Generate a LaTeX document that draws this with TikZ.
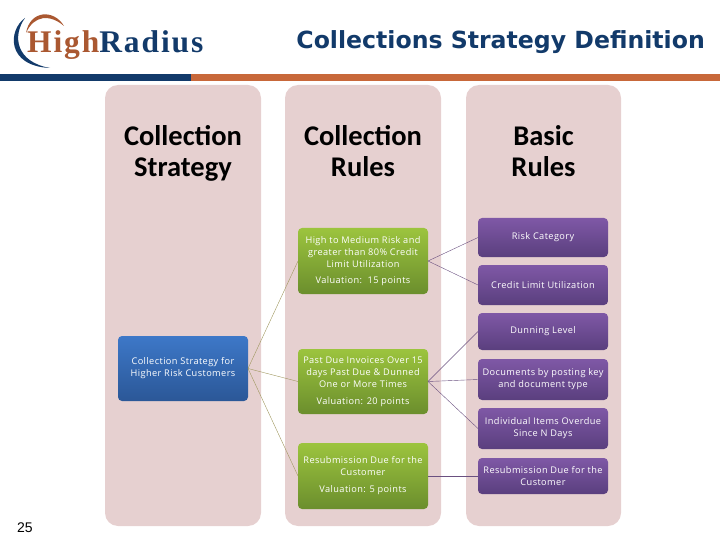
\documentclass[tikz,border=0pt]{standalone}
\usepackage{fontspec}
\setmainfont{Open Sans}
\newfontfamily\logofont[LetterSpace=6]{Liberation Serif}
\newfontfamily\titlefont{DejaVu Sans}
\newfontfamily\headfont{Carlito}
\newfontfamily\boxfont[LetterSpace=4.5]{Open Sans}
\newfontfamily\pagefont{Liberation Sans}
\usetikzlibrary{positioning}
\definecolor{navy}{HTML}{123A6A}
\definecolor{rust}{HTML}{C8683A}
\definecolor{panelpink}{HTML}{E6D0D0}
\definecolor{lineolive}{HTML}{A09860}
\definecolor{linepurple}{HTML}{6A5080}
\definecolor{bluetop}{HTML}{3D78C8}
\definecolor{bluebot}{HTML}{2B5797}
\definecolor{greentop}{HTML}{9CC43E}
\definecolor{greenbot}{HTML}{6B8E2D}
\definecolor{purpletop}{HTML}{7F58A6}
\definecolor{purplebot}{HTML}{5A3F7E}
\tikzset{
	panel/.style={rectangle, fill=panelpink, rounded corners=13pt, minimum width=156pt, minimum height=441pt, outer sep=0pt},
	heading/.style={align=center, font=\headfont\bfseries\fontsize{28.5}{31}\selectfont, text=black, execute at begin node=\strut, execute at end node=\strut},
	leafbox/.style={rectangle, rounded corners=4pt, minimum width=130pt, inner sep=1pt, outer sep=0pt, align=center, text=white, font=\boxfont\fontsize{9.2}{12}\selectfont},
	bluebox/.style={leafbox, top color=bluetop, bottom color=bluebot, minimum height=65pt},
	greenbox/.style={leafbox, top color=greentop, bottom color=greenbot},
	purplebox/.style={leafbox, top color=purpletop, bottom color=purplebot}
}
\begin{document}
\begin{tikzpicture}[x=1pt, y=-1pt, node distance=8pt]
	\useasboundingbox (0,0) rectangle (720,540);

	\fill[navy] (0,74) rectangle (191,81);
	\fill[rust] (191,74) rectangle (720,81);

	\fill[navy] (25,18) .. controls (8,30) and (6,66) .. (50,68) .. controls (16,62) and (12,36) .. (25,18) -- cycle;
	\fill[rust!85!black] (26,33) .. controls (30,10) and (54,9) .. (64,26) .. controls (50,14) and (34,15) .. (26,33) -- cycle;
	\node[font=\logofont\bfseries\fontsize{31.5}{31}\selectfont, inner sep=0pt, anchor=base west] (logo) at (27,53) {\textcolor{rust!85!black}{High}\textcolor{navy}{Radius}};
	\node[font=\titlefont\bfseries\fontsize{23.6}{26}\selectfont, text=navy, inner sep=0pt, anchor=base east] (title) at (705,49) {Collections Strategy Definition};

	\node[panel, anchor=north west] (stratpanel) at (105,85) {};
	\node[panel, anchor=north west] (rulepanel) at (285,85) {};
	\node[panel, anchor=north west, minimum width=155pt] (basicpanel) at (466,85) {};

	\node[heading] (strathead) at (183,156) {Collection\\Strategy};
	\node[heading] (rulehead) at (363,156) {Collection\\Rules};
	\node[heading] (basichead) at (543.5,156) {Basic\\Rules};

	\node[bluebox, anchor=north west] (highrisk) at (118,336) {Collection Strategy for\\Higher Risk Customers};

	\node[greenbox, minimum height=66pt, anchor=north west] (medrisk) at (298,228) {High to Medium Risk and\\greater than 80\% Credit\\Limit Utilization\\[4pt]Valuation:\ \ 15 points};
	\node[greenbox, minimum height=65pt, below=55pt of medrisk] (pastdue) {Past Due Invoices Over 15\\days Past Due \& Dunned\\One or More Times\\[5pt]Valuation: 20 points};
	\node[greenbox, minimum height=66pt, below=29pt of pastdue] (resub) {Resubmission Due for the\\Customer\\[5pt]Valuation: 5 points};

	\node[purplebox, minimum height=39pt, anchor=north west] (riskcat) at (478,218) {Risk Category};
	\node[purplebox, minimum height=40pt, below=of riskcat] (climit) {Credit Limit Utilization};
	\node[purplebox, minimum height=37pt, below=of climit] (dunning) {Dunning Level};
	\node[purplebox, minimum height=41pt, below=9pt of dunning] (docs) {Documents by posting key\\and document type};
	\node[purplebox, minimum height=41pt, below=of docs] (overdue) {Individual Items Overdue\\Since N Days};
	\node[purplebox, minimum height=36pt, below=9pt of overdue] (resubbasic) {Resubmission Due for the\\Customer};

	\draw[lineolive] (highrisk.east) -- (medrisk.west);
	\draw[lineolive] (highrisk.east) -- (pastdue.west);
	\draw[lineolive] (highrisk.east) -- (resub.west);

	\draw[linepurple] (medrisk.east) -- (riskcat.west);
	\draw[linepurple] (medrisk.east) -- (climit.west);
	\draw[linepurple] (pastdue.east) -- (dunning.west);
	\draw[linepurple] (pastdue.east) -- (docs.west);
	\draw[linepurple] (pastdue.east) -- (overdue.west);
	\draw[linepurple] (resub.east) -- (resubbasic.west);

	\node[font=\pagefont\fontsize{14}{16}\selectfont, inner sep=0pt] (pagenum) at (25,528) {25};
\end{tikzpicture}
\end{document}
